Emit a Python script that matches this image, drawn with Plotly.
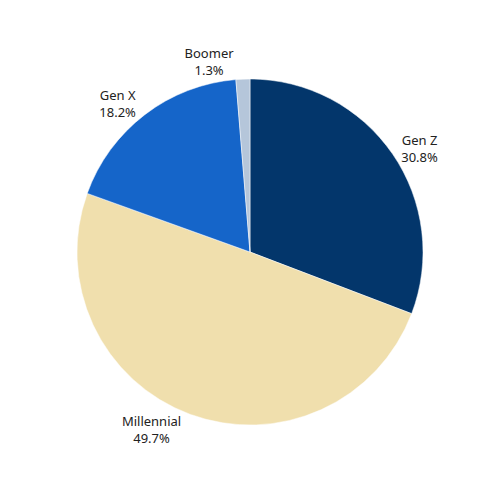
import plotly.graph_objects as go

generations = ["Gen Z", "Millennial", "Gen X", "Boomer"]
shares = [30.8, 49.7, 18.2, 1.3]
colors = ["#03366b", "#f0dfad", "#1565c9", "#b5c6da"]

fig = go.Figure(
    go.Pie(
        labels=generations,
        values=shares,
        sort=False,
        direction="clockwise",
        rotation=0,
        marker=dict(colors=colors, line=dict(color="white", width=0.5)),
        textposition="outside",
        texttemplate="%{label}<br>%{percent}",
        textfont=dict(family="Noto Sans", size=13, color="#222222"),
        showlegend=False,
        hoverinfo="label+percent",
    )
)

# page body adds ~8px offset, so margins are shifted to keep the pie centred
fig.update_layout(
    width=500,
    height=500,
    margin=dict(l=69, r=85, t=71, b=83),
    paper_bgcolor="white",
    plot_bgcolor="white",
)

fig.write_html("out.html")
